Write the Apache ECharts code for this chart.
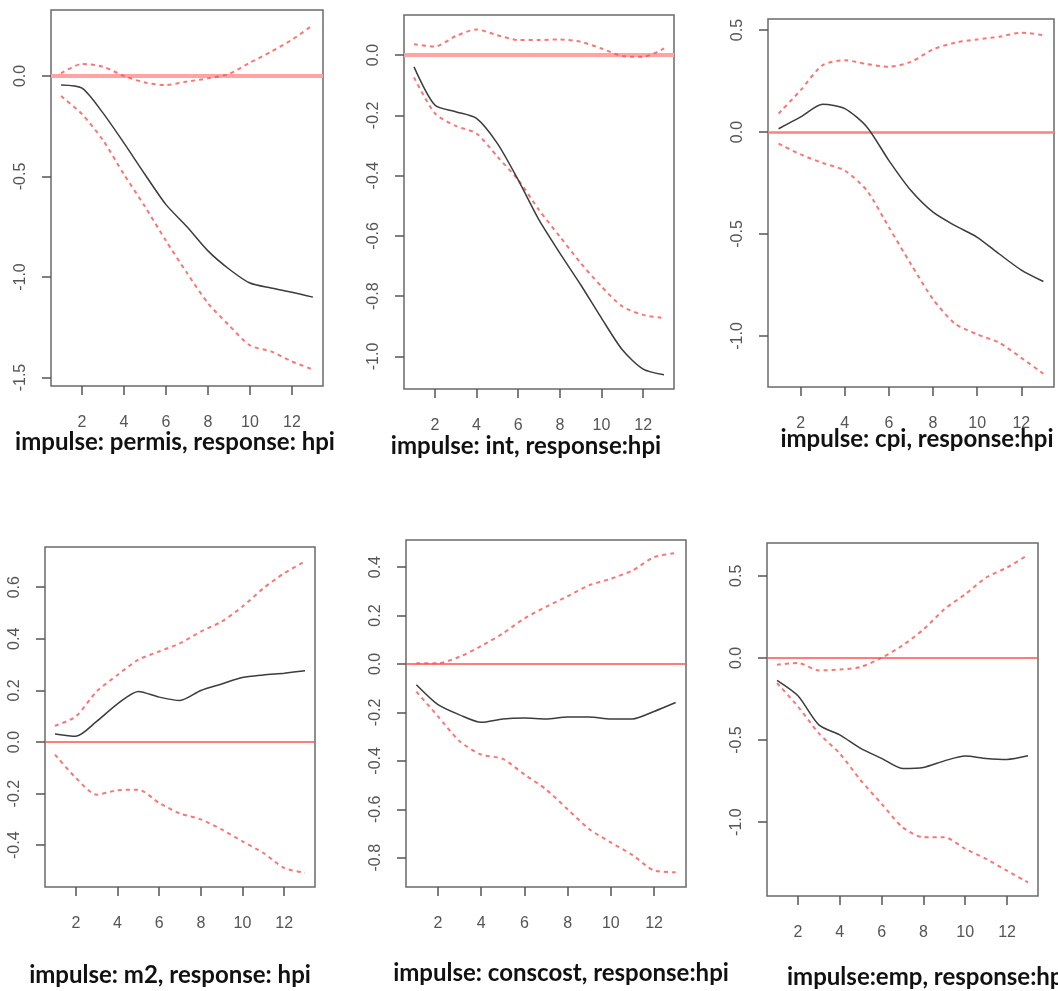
<!DOCTYPE html>
<html>
<head>
<meta charset="utf-8">
<script src="https://cdn.jsdelivr.net/npm/echarts@6/dist/echarts.min.js"></script>
<style>
html,body{margin:0;padding:0;background:#fff;}
#chart{width:1058px;height:991px;}
</style>
</head>
<body>
<div id="chart"></div>
<script>
// Horizon steps
const steps = [1,2,3,4,5,6,7,8,9,10,11,12,13];
const xTicks = [2,4,6,8,10,12];

// Panel titles
const titles = [
  "impulse: permis, response: hpi",
  "impulse: int, response:hpi",
  "impulse: cpi, response:hpi",
  "impulse: m2, response: hpi",
  "impulse: conscost, response:hpi",
  "impulse:emp, response:hpi"
];

// Panel 1: permis -> hpi
const p1Irf   = [-0.045,-0.061,-0.185,-0.334,-0.49,-0.64,-0.75,-0.87,-0.96,-1.03,-1.055,-1.076,-1.10];
const p1Upper = [0.013,0.06,0.046,0.0,-0.033,-0.045,-0.028,-0.012,0.01,0.066,0.12,0.18,0.253];
const p1Lower = [-0.10,-0.19,-0.32,-0.49,-0.65,-0.82,-0.98,-1.13,-1.24,-1.34,-1.37,-1.42,-1.46];
const p1YTicks = [-1.5,-1.0,-0.5,0.0];

// Panel 2: int -> hpi
const p2Irf   = [-0.039,-0.166,-0.188,-0.21,-0.293,-0.414,-0.547,-0.657,-0.762,-0.873,-0.978,-1.042,-1.061];
const p2Upper = [0.036,0.028,0.063,0.085,0.066,0.05,0.05,0.052,0.044,0.022,-0.003,-0.006,0.022];
const p2Lower = [-0.074,-0.193,-0.235,-0.26,-0.337,-0.414,-0.514,-0.602,-0.69,-0.768,-0.834,-0.862,-0.873];
const p2YTicks = [-1.0,-0.8,-0.6,-0.4,-0.2,0.0];

// Panel 3: cpi -> hpi
const p3Irf   = [0.016,0.074,0.136,0.115,0.025,-0.14,-0.287,-0.393,-0.459,-0.516,-0.598,-0.677,-0.733];
const p3Upper = [0.09,0.205,0.328,0.352,0.333,0.32,0.344,0.405,0.438,0.454,0.467,0.487,0.475];
const p3Lower = [-0.057,-0.11,-0.152,-0.189,-0.287,-0.467,-0.648,-0.82,-0.94,-0.992,-1.033,-1.107,-1.185];
const p3YTicks = [-1.0,-0.5,0.0,0.5];

// Panel 4: m2 -> hpi
const p4Irf   = [0.031,0.022,0.08,0.148,0.196,0.174,0.161,0.2,0.225,0.25,0.26,0.267,0.276];
const p4Upper = [0.063,0.099,0.196,0.26,0.319,0.351,0.383,0.428,0.467,0.525,0.596,0.654,0.70];
const p4Lower = [-0.049,-0.139,-0.204,-0.187,-0.185,-0.236,-0.277,-0.30,-0.339,-0.385,-0.43,-0.488,-0.507];
const p4YTicks = [-0.4,-0.2,0.0,0.2,0.4,0.6];

// Panel 5: conscost -> hpi
const p5Irf   = [-0.086,-0.168,-0.21,-0.241,-0.227,-0.223,-0.227,-0.219,-0.219,-0.227,-0.227,-0.196,-0.159];
const p5Upper = [0.003,0.003,0.03,0.074,0.126,0.188,0.236,0.28,0.325,0.352,0.386,0.441,0.458];
const p5Lower = [-0.114,-0.216,-0.319,-0.374,-0.392,-0.456,-0.518,-0.60,-0.682,-0.737,-0.789,-0.853,-0.86];
const p5YTicks = [-0.8,-0.6,-0.4,-0.2,0.0,0.2,0.4];

// Panel 6: emp -> hpi
const p6Irf   = [-0.137,-0.231,-0.408,-0.469,-0.551,-0.612,-0.673,-0.667,-0.627,-0.598,-0.612,-0.618,-0.596];
const p6Upper = [-0.041,-0.031,-0.076,-0.071,-0.055,0.0,0.076,0.173,0.296,0.388,0.49,0.551,0.627];
const p6Lower = [-0.153,-0.296,-0.459,-0.582,-0.745,-0.888,-1.031,-1.092,-1.092,-1.163,-1.224,-1.296,-1.367];
const p6YTicks = [-1.0,-0.5,0.0,0.5];

const panels = [
  {irf:p1Irf, up:p1Upper, lo:p1Lower, ticks:p1YTicks, y:[-1.542,0.328], grid:{left:51,top:10,width:272,height:376}, zero:{color:'#ffa3a3',width:4}, title:{x:170,y:425}},
  {irf:p2Irf, up:p2Upper, lo:p2Lower, ticks:p2YTicks, y:[-1.108,0.133], grid:{left:404,top:15,width:270,height:374}, zero:{color:'#ffa3a3',width:4}, title:{x:521,y:429}},
  {irf:p3Irf, up:p3Upper, lo:p3Lower, ticks:p3YTicks, y:[-1.25,0.554], grid:{left:768,top:19,width:286,height:368}, zero:{color:'#ff8080',width:2.5}, title:{x:912,y:422}},
  {irf:p4Irf, up:p4Upper, lo:p4Lower, ticks:p4YTicks, y:[-0.562,0.756], grid:{left:45,top:547,width:270,height:340}, zero:{color:'#ff5050',width:1.5}, title:{x:165,y:958}},
  {irf:p5Irf, up:p5Upper, lo:p5Lower, ticks:p5YTicks, y:[-0.921,0.512], grid:{left:406,top:540,width:280,height:347}, zero:{color:'#ff5050',width:1.5}, title:{x:556,y:956}},
  {irf:p6Irf, up:p6Upper, lo:p6Lower, ticks:p6YTicks, y:[-1.45,0.70], grid:{left:767,top:543,width:271,height:353}, zero:{color:'#ff5050',width:1.5}, title:{x:782,y:960,align:'left'}}
];

const pair = vals => steps.map((s,i)=>[s, vals[i]]);
const labelFont = {fontFamily:'"Liberation Sans", Arial, sans-serif', fontSize:16, color:'#555'};

const grids=[], xAxes=[], yAxes=[], series=[], titleOpts=[];
panels.forEach((p,i)=>{
  grids.push(Object.assign({show:true, borderColor:'#6a6a6a', borderWidth:1.5, backgroundColor:'#fff', containLabel:false}, p.grid));
  xAxes.push({
    type:'value', gridIndex:i, min:0.52, max:13.48, position:'bottom',
    axisLine:{show:false, onZero:false},
    splitLine:{show:false},
    axisTick:{show:true, inside:false, length:9, customValues:xTicks, lineStyle:{color:'#555', width:1.5}},
    axisLabel:Object.assign({show:true, margin:29, customValues:xTicks, formatter:v=>String(v)}, labelFont)
  });
  yAxes.push({
    type:'value', gridIndex:i, min:p.y[0], max:p.y[1], position:'left',
    axisLine:{show:false, onZero:false},
    splitLine:{show:false},
    axisTick:{show:true, inside:false, length:9, customValues:p.ticks, lineStyle:{color:'#555', width:1.5}},
    axisLabel:Object.assign({show:true, margin:22, rotate:90, customValues:p.ticks, formatter:v=>v.toFixed(1)}, labelFont)
  });
  const dash = {color:'rgba(255,80,80,0.8)', width:2, type:[4,4]};
  series.push({
    type:'line', xAxisIndex:i, yAxisIndex:i, data:pair(p.irf), symbol:'none', smooth:0.25,
    lineStyle:{color:'#3c3c3c', width:1.5}, z:3,
    markLine:{silent:true, symbol:['none','none'], label:{show:false}, lineStyle:{color:p.zero.color, width:p.zero.width, type:'solid'}, data:[{yAxis:0}], z:1}
  });
  series.push({type:'line', xAxisIndex:i, yAxisIndex:i, data:pair(p.up), symbol:'none', smooth:0.25, lineStyle:dash, z:2});
  series.push({type:'line', xAxisIndex:i, yAxisIndex:i, data:pair(p.lo), symbol:'none', smooth:0.25, lineStyle:dash, z:2});
  titleOpts.push({
    text:titles[i], left:p.title.x, top:p.title.y, textAlign:p.title.align||'center',
    textStyle:{fontFamily:'Lato, "Open Sans", sans-serif', fontWeight:'bold', fontSize:24, color:'#111'}
  });
});

const chart = echarts.init(document.getElementById('chart'), null, {renderer:'canvas'});
chart.setOption({
  animation:false,
  backgroundColor:'#fff',
  title:titleOpts,
  grid:grids, xAxis:xAxes, yAxis:yAxes, series:series
});
</script>
</body>
</html>
